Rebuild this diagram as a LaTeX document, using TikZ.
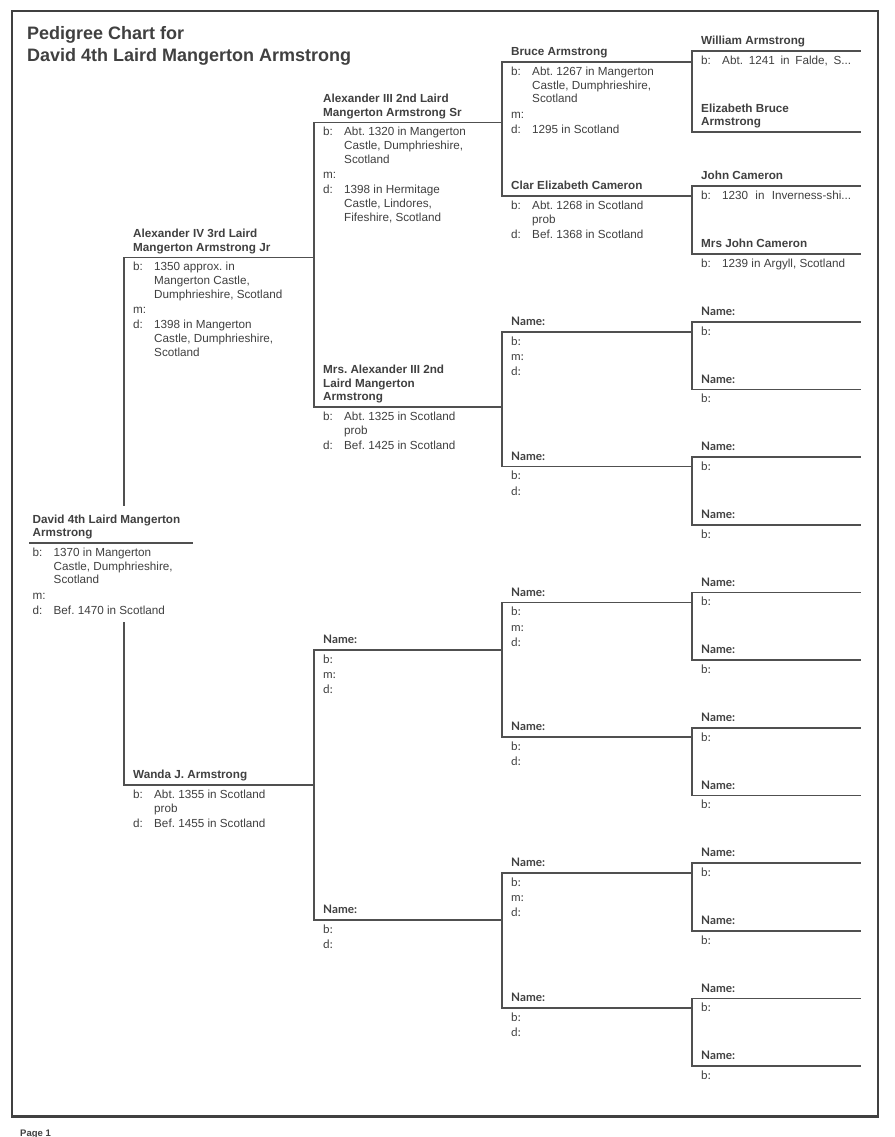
\documentclass[tikz,border=0pt]{standalone}
\usepackage{fontspec}
\setmainfont{Liberation Sans}
\newfontfamily\latofont{Lato}
\definecolor{ink}{HTML}{404040}
\definecolor{rulec}{HTML}{505050}
\definecolor{framec}{HTML}{404040}
\newcommand\PN[1]{\begin{tabular}{@{}l@{}}#1\end{tabular}}
\newcommand\PD[1]{\begin{tabular}{@{}p{21pt}@{}l@{}}#1\end{tabular}}
\newcommand\ES{\\[1.4pt]}
\frenchspacing
\begin{document}
\begin{tikzpicture}[x=1pt,y=-1pt,
  txt/.style={inner sep=0pt, text=ink},
  pname/.style={txt, anchor=south west, xshift=9pt, yshift=1.7pt, font=\fontsize{11.7}{13.8}\selectfont\bfseries},
  pdet/.style={txt, anchor=north west, xshift=9pt, yshift=-3.5pt, font=\fontsize{11.7}{13.8}\selectfont},
  ename/.style={pname, font=\fontsize{11.7}{13.8}\selectfont\latofont\bfseries},
  edet/.style={pdet, font=\fontsize{11.7}{13.8}\selectfont\latofont},
  link/.style={draw=rulec, line width=1.4pt, line cap=rect}]
\useasboundingbox[fill=white] (0,0) rectangle (894,1137);
\draw[draw=framec, line width=2.8pt] (12,11) rectangle (878,1116.5);
\node[txt, anchor=south west, font=\fontsize{18}{22}\selectfont\bfseries] (title) at (27,68.6)
  {\PN{Pedigree Chart for\\David 4th Laird Mangerton Armstrong}};
\node[txt, anchor=base west, font=\fontsize{9.5}{11}\selectfont\bfseries] (page) at (20,1136) {Page 1};
% line coordinates
\foreach \i/\xl/\xr/\yy in {1/30/192/543, 2/124/314/257.5, 3/124/314/785,
  4/314/502/122.5, 5/314/502/407, 6/314/502/650, 7/314/502/920,
  8/502/692/62, 9/502/692/196, 10/502/692/332, 11/502/692/466.5,
  12/502/692/602.5, 13/502/692/737, 14/502/692/873, 15/502/692/1008,
  16/692/860/51, 17/692/860/132, 18/692/860/186, 19/692/860/254,
  20/692/860/322, 21/692/860/389.5, 22/692/860/457, 23/692/860/525,
  24/692/860/592.5, 25/692/860/660, 26/692/860/728, 27/692/860/795.5,
  28/692/860/863, 29/692/860/931, 30/692/860/998.5, 31/692/860/1066}
  {\coordinate (L\i) at (\xl,\yy); \coordinate (R\i) at (\xr,\yy);}
\coordinate (c1a) at (124,505);
\coordinate (c1b) at (124,623);
\foreach \i in {1,...,31} {\draw[link] (L\i) -- (R\i);}
\foreach \a/\b in {4/5,6/7,8/9,10/11,12/13,14/15,16/17,18/19,20/21,22/23,24/25,26/27,28/29,30/31}
  {\draw[link] (L\a) -- (L\b);}
\draw[link] (L2) -- (c1a);
\draw[link] (c1b) -- (L3);
% generation 1
\node[pname, xshift=-6.5pt] (n1) at (L1) {\PN{David 4th Laird Mangerton\\Armstrong}};
\node[pdet, xshift=-6.5pt] (d1) at (L1) {\PD{b: & 1370 in Mangerton\\ & Castle, Dumphrieshire,\\ & Scotland\ES m: & \ES d: & Bef. 1470 in Scotland}};
% generation 2
\node[pname] (n2) at (L2) {\PN{Alexander IV 3rd Laird\\Mangerton Armstrong Jr}};
\node[pdet] (d2) at (L2) {\PD{b: & 1350 approx. in\\ & Mangerton Castle,\\ & Dumphrieshire, Scotland\ES m: & \ES d: & 1398 in Mangerton\\ & Castle, Dumphrieshire,\\ & Scotland}};
\node[pname] (n3) at (L3) {\PN{Wanda J. Armstrong}};
\node[pdet] (d3) at (L3) {\PD{b: & Abt. 1355 in Scotland\\ & prob\ES d: & Bef. 1455 in Scotland}};
% generation 3
\node[pname] (n4) at (L4) {\PN{Alexander III 2nd Laird\\Mangerton Armstrong Sr}};
\node[pdet] (d4) at (L4) {\PD{b: & Abt. 1320 in Mangerton\\ & Castle, Dumphrieshire,\\ & Scotland\ES m: & \ES d: & 1398 in Hermitage\\ & Castle, Lindores,\\ & Fifeshire, Scotland}};
\node[pname] (n5) at (L5) {\PN{Mrs. Alexander III 2nd\\Laird Mangerton\\Armstrong}};
\node[pdet] (d5) at (L5) {\PD{b: & Abt. 1325 in Scotland\\ & prob\ES d: & Bef. 1425 in Scotland}};
% generation 4
\node[pname] (n8) at (L8) {\PN{Bruce Armstrong}};
\node[pdet] (d8) at (L8) {\PD{b: & Abt. 1267 in Mangerton\\ & Castle, Dumphrieshire,\\ & Scotland\ES m: & \ES d: & 1295 in Scotland}};
\node[pname] (n9) at (L9) {\PN{Clar Elizabeth Cameron}};
\node[pdet] (d9) at (L9) {\PD{b: & Abt. 1268 in Scotland\\ & prob\ES d: & Bef. 1368 in Scotland}};
% generation 5
\node[pname] (n16) at (L16) {\PN{William Armstrong}};
\node[pdet] (d16) at (L16) {\PD{b: & \makebox[129pt][s]{Abt. 1241 in Falde, S...}}};
\node[pname] (n17) at (L17) {\PN{Elizabeth Bruce\\Armstrong}};
\node[pname] (n18) at (L18) {\PN{John Cameron}};
\node[pdet] (d18) at (L18) {\PD{b: & \makebox[129pt][s]{1230 in Inverness-shi...}}};
\node[pname] (n19) at (L19) {\PN{Mrs John Cameron}};
\node[pdet] (d19) at (L19) {\PD{b: & 1239 in Argyll, Scotland}};
% empty slots
\foreach \i in {6,10,12,14} {
  \node[ename] (n\i) at (L\i) {\PN{Name:}};
  \node[edet] (d\i) at (L\i) {\PD{b: & \ES m: & \ES d: & }};}
\foreach \i in {7,11,13,15} {
  \node[ename] (n\i) at (L\i) {\PN{Name:}};
  \node[edet] (d\i) at (L\i) {\PD{b: & \ES d: & }};}
\foreach \i in {20,...,31} {
  \node[ename] (n\i) at (L\i) {\PN{Name:}};
  \node[edet] (d\i) at (L\i) {\PD{b: & }};}
\end{tikzpicture}
\end{document}
